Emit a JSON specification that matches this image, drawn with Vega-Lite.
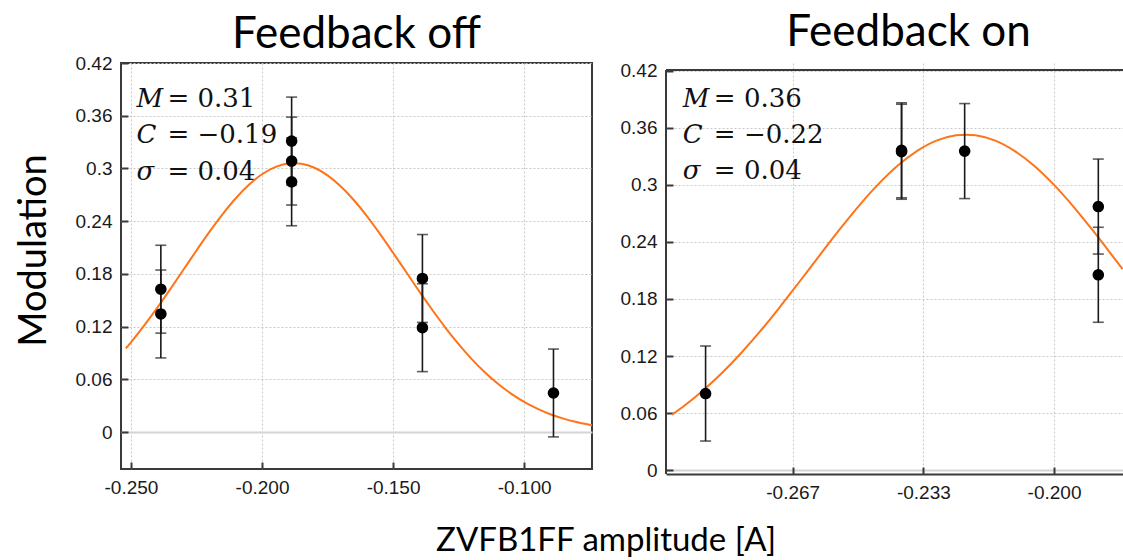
{
  "$schema": "https://vega.github.io/schema/vega-lite/v6.json",
  "background": "white",
  "padding": {"left": 14, "top": 10, "right": 0, "bottom": 0},
  "spacing": 23,
  "title": {"text": "ZVFB1FF amplitude [A]", "orient": "bottom", "anchor": "middle", "dx": 37, "offset": 23, "font": "Lato", "fontSize": 33, "fontWeight": "normal", "color": "black"},
  "config": {
    "view": {"stroke": "#3a3a3a", "strokeWidth": 2},
    "axis": {"labelFont": "Liberation Sans", "labelFontSize": 19, "labelColor": "#1a1a1a", "tickColor": "#3a3a3a", "tickSize": -7, "tickWidth": 2, "labelPadding": 16, "domain": false, "labelFlush": false, "labelOverlap": false, "labelBound": false, "titleFont": "Lato", "titleFontWeight": "normal", "titleColor": "black"},
    "title": {"font": "Lato", "fontSize": 44, "fontWeight": "normal", "color": "black"}
  },
  "datasets": {
    "off_pts": [
      {"x": -0.2386, "y": 0.1626, "lo": 0.1126, "hi": 0.2126},
      {"x": -0.2386, "y": 0.1344, "lo": 0.0844, "hi": 0.1844},
      {"x": -0.1887, "y": 0.3312, "lo": 0.2812, "hi": 0.3812},
      {"x": -0.1887, "y": 0.3084, "lo": 0.2584, "hi": 0.3584},
      {"x": -0.1887, "y": 0.2848, "lo": 0.2348, "hi": 0.3348},
      {"x": -0.1388, "y": 0.1748, "lo": 0.1248, "hi": 0.2248},
      {"x": -0.1388, "y": 0.1188, "lo": 0.0688, "hi": 0.1688},
      {"x": -0.0888, "y": 0.0445, "lo": -0.0055, "hi": 0.0945}
    ],
    "on_pts": [
      {"x": -0.2889, "y": 0.0805, "lo": 0.0305, "hi": 0.1305},
      {"x": -0.2389, "y": 0.3365, "lo": 0.2865, "hi": 0.3865},
      {"x": -0.2389, "y": 0.3350, "lo": 0.2850, "hi": 0.3850},
      {"x": -0.2228, "y": 0.3357, "lo": 0.2857, "hi": 0.3857},
      {"x": -0.1887, "y": 0.2773, "lo": 0.2273, "hi": 0.3273},
      {"x": -0.1887, "y": 0.2055, "lo": 0.1555, "hi": 0.2555}
    ],
    "off_fit": [
      {"x": -0.252, "y": 0.0952}, {"x": -0.250, "y": 0.1022}, {"x": -0.245, "y": 0.1211}, {"x": -0.240, "y": 0.1413},
      {"x": -0.235, "y": 0.1627}, {"x": -0.230, "y": 0.1847}, {"x": -0.225, "y": 0.2067}, {"x": -0.220, "y": 0.2281},
      {"x": -0.215, "y": 0.2481}, {"x": -0.210, "y": 0.2661}, {"x": -0.205, "y": 0.2814}, {"x": -0.200, "y": 0.2934},
      {"x": -0.195, "y": 0.3015}, {"x": -0.190, "y": 0.3056}, {"x": -0.1878, "y": 0.3060}, {"x": -0.185, "y": 0.3053},
      {"x": -0.180, "y": 0.3008}, {"x": -0.175, "y": 0.2921}, {"x": -0.170, "y": 0.2797}, {"x": -0.165, "y": 0.2641},
      {"x": -0.160, "y": 0.2458}, {"x": -0.155, "y": 0.2256}, {"x": -0.150, "y": 0.2041}, {"x": -0.145, "y": 0.1821},
      {"x": -0.140, "y": 0.1601}, {"x": -0.135, "y": 0.1389}, {"x": -0.130, "y": 0.1187}, {"x": -0.125, "y": 0.1001},
      {"x": -0.120, "y": 0.0831}, {"x": -0.115, "y": 0.0681}, {"x": -0.110, "y": 0.0550}, {"x": -0.105, "y": 0.0438},
      {"x": -0.100, "y": 0.0344}, {"x": -0.095, "y": 0.0267}, {"x": -0.090, "y": 0.0203}, {"x": -0.085, "y": 0.0153},
      {"x": -0.080, "y": 0.0114}, {"x": -0.0741, "y": 0.0078}
    ],
    "on_fit": [
      {"x": -0.2975, "y": 0.0582}, {"x": -0.295, "y": 0.0655}, {"x": -0.290, "y": 0.0820}, {"x": -0.285, "y": 0.1010},
      {"x": -0.280, "y": 0.1224}, {"x": -0.275, "y": 0.1459}, {"x": -0.270, "y": 0.1713}, {"x": -0.265, "y": 0.1979},
      {"x": -0.260, "y": 0.2249}, {"x": -0.255, "y": 0.2516}, {"x": -0.250, "y": 0.2770}, {"x": -0.245, "y": 0.3001},
      {"x": -0.240, "y": 0.3200}, {"x": -0.235, "y": 0.3357}, {"x": -0.230, "y": 0.3467}, {"x": -0.225, "y": 0.3523},
      {"x": -0.2225, "y": 0.3530}, {"x": -0.220, "y": 0.3523}, {"x": -0.215, "y": 0.3467}, {"x": -0.210, "y": 0.3357},
      {"x": -0.205, "y": 0.3200}, {"x": -0.200, "y": 0.3001}, {"x": -0.195, "y": 0.2770}, {"x": -0.190, "y": 0.2516},
      {"x": -0.185, "y": 0.2249}, {"x": -0.1825, "y": 0.2114}
    ],
    "off_txt": [
      {"x": -0.2479, "y": 0.370, "sym": "M", "rest": "= 0.31"},
      {"x": -0.2479, "y": 0.329, "sym": "C", "rest": "= −0.19"},
      {"x": -0.2479, "y": 0.287, "sym": "σ", "rest": "= 0.04"}
    ],
    "on_txt": [
      {"x": -0.2947, "y": 0.382, "sym": "M", "rest": "= 0.36"},
      {"x": -0.2947, "y": 0.344, "sym": "C", "rest": "= −0.22"},
      {"x": -0.2947, "y": 0.306, "sym": "σ", "rest": "= 0.04"}
    ]
  },
  "hconcat": [
    {
      "width": 471,
      "height": 406,
      "title": {"text": "Feedback off", "offset": -3},
      "layer": [
        {
          "data": {"name": "off_fit"},
          "mark": {"type": "line", "color": "#ff7419", "strokeWidth": 2, "interpolate": "monotone"},
          "encoding": {
            "x": {"field": "x", "type": "quantitative", "scale": {"domain": [-0.2538, -0.0741], "nice": false, "zero": false},
              "axis": {"values": [-0.25, -0.2, -0.15, -0.1], "labelExpr": "replace(format(datum.value, '.3f'), '\u2212', '-')", "title": null,
                "gridColor": "#c8c8c8", "gridDash": [2, 2], "gridWidth": 1}},
            "y": {"field": "y", "type": "quantitative", "scale": {"domain": [-0.042, 0.42], "nice": false, "zero": false},
              "axis": {"values": [0, 0.06, 0.12, 0.18, 0.24, 0.3, 0.36, 0.42], "format": "~g", "title": "Modulation",
                "titleFontSize": 38, "titlePadding": 22, "titleY": 187,
                "gridColor": {"condition": {"test": "datum.value === 0", "value": "#d4d4d4"}, "value": "#c8c8c8"},
                "gridDash": {"condition": {"test": "datum.value === 0", "value": []}, "value": [2, 2]},
                "gridWidth": {"condition": {"test": "datum.value === 0", "value": 2}, "value": 1}}}
          }
        },
        {
          "data": {"name": "off_pts"},
          "mark": {"type": "errorbar", "rule": {"color": "#1a1a1a", "strokeWidth": 1.6}, "ticks": {"color": "#1a1a1a", "size": 11, "thickness": 1.6}},
          "encoding": {
            "x": {"field": "x", "type": "quantitative"},
            "y": {"field": "lo", "type": "quantitative", "title": "Modulation"},
            "y2": {"field": "hi"}
          }
        },
        {
          "data": {"name": "off_pts"},
          "mark": {"type": "circle", "color": "black", "opacity": 1, "size": 135},
          "encoding": {
            "x": {"field": "x", "type": "quantitative"},
            "y": {"field": "y", "type": "quantitative"}
          }
        },
        {
          "data": {"name": "off_txt"},
          "mark": {"type": "text", "font": "DejaVu Serif", "fontSize": 26, "fontStyle": "italic", "align": "left", "baseline": "alphabetic", "color": "#111"},
          "encoding": {
            "x": {"field": "x", "type": "quantitative"},
            "y": {"field": "y", "type": "quantitative"},
            "text": {"field": "sym"}
          }
        },
        {
          "data": {"name": "off_txt"},
          "mark": {"type": "text", "font": "DejaVu Serif", "fontSize": 26, "align": "left", "baseline": "alphabetic", "dx": 31, "color": "#111"},
          "encoding": {
            "x": {"field": "x", "type": "quantitative"},
            "y": {"field": "y", "type": "quantitative"},
            "text": {"field": "rest"}
          }
        }
      ]
    },
    {
      "width": 457,
      "height": 411,
      "title": {"text": "Feedback on", "offset": 7, "dx": 14},
      "view": {"stroke": null},
      "layer": [
        {
          "data": {"name": "on_fit"},
          "mark": {"type": "line", "color": "#ff7419", "strokeWidth": 2, "interpolate": "monotone", "clip": true},
          "encoding": {
            "x": {"field": "x", "type": "quantitative", "scale": {"domain": [-0.299, -0.1824], "nice": false, "zero": false},
              "axis": {"values": [-0.26667, -0.23333, -0.2], "labelExpr": "replace(format(datum.value, '.3f'), '\u2212', '-')", "title": null, "domain": true, "domainColor": "#3a3a3a", "domainWidth": 2,
                "gridColor": "#c8c8c8", "gridDash": [2, 2], "gridWidth": 1}},
            "y": {"field": "y", "type": "quantitative", "scale": {"domain": [-0.0042, 0.4284], "nice": false, "zero": false},
              "axis": {"values": [0, 0.06, 0.12, 0.18, 0.24, 0.3, 0.36, 0.42], "format": "~g", "title": null, "domain": false,
                "gridColor": {"condition": {"test": "datum.value === 0", "value": "#d4d4d4"}, "value": "#c8c8c8"},
                "gridDash": {"condition": {"test": "datum.value === 0", "value": []}, "value": [2, 2]},
                "gridWidth": {"condition": {"test": "datum.value === 0", "value": 2}, "value": 1}}}
          }
        },
        {
          "data": {"values": [{}]},
          "mark": {"type": "rule", "color": "#3a3a3a", "strokeWidth": 2},
          "encoding": {"y": {"datum": 0.421}}
        },
        {
          "data": {"values": [{}]},
          "mark": {"type": "rule", "color": "#3a3a3a", "strokeWidth": 2},
          "encoding": {"x": {"datum": -0.299}, "y": {"datum": 0.421}, "y2": {"datum": -0.0042}}
        },
        {
          "data": {"name": "on_pts"},
          "mark": {"type": "errorbar", "rule": {"color": "#1a1a1a", "strokeWidth": 1.6}, "ticks": {"color": "#1a1a1a", "size": 11, "thickness": 1.6}},
          "encoding": {
            "x": {"field": "x", "type": "quantitative"},
            "y": {"field": "lo", "type": "quantitative", "title": null},
            "y2": {"field": "hi"}
          }
        },
        {
          "data": {"name": "on_pts"},
          "mark": {"type": "circle", "color": "black", "opacity": 1, "size": 135},
          "encoding": {
            "x": {"field": "x", "type": "quantitative"},
            "y": {"field": "y", "type": "quantitative"}
          }
        },
        {
          "data": {"name": "on_txt"},
          "mark": {"type": "text", "font": "DejaVu Serif", "fontSize": 26, "fontStyle": "italic", "align": "left", "baseline": "alphabetic", "color": "#111"},
          "encoding": {
            "x": {"field": "x", "type": "quantitative"},
            "y": {"field": "y", "type": "quantitative"},
            "text": {"field": "sym"}
          }
        },
        {
          "data": {"name": "on_txt"},
          "mark": {"type": "text", "font": "DejaVu Serif", "fontSize": 26, "align": "left", "baseline": "alphabetic", "dx": 31, "color": "#111"},
          "encoding": {
            "x": {"field": "x", "type": "quantitative"},
            "y": {"field": "y", "type": "quantitative"},
            "text": {"field": "rest"}
          }
        }
      ]
    }
  ]
}
